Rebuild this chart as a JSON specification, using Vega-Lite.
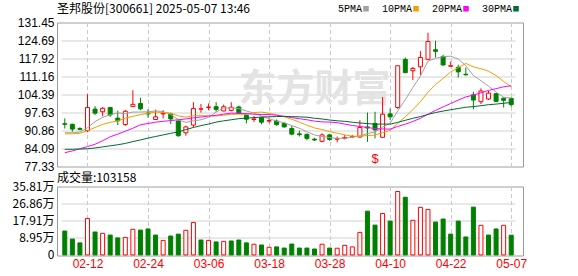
{
  "$schema": "https://vega.github.io/schema/vega-lite/v6.json",
  "background": "white",
  "padding": {"left": 0, "top": 1.5, "right": 0, "bottom": 0},
  "spacing": -3,
  "config": {
    "view": {"stroke": "#9a9a9a", "strokeWidth": 1},
    "axis": {"domain": false, "ticks": false, "labelFont": "Liberation Sans", "labelFontSize": 12, "labelColor": "#000000", "gridColor": "#d2d2d2", "title": null, "minExtent": 56, "maxExtent": 56, "labelPadding": 3, "labelOverlap": false},
    "axisX": {"minExtent": 0, "maxExtent": 30},
    "title": {"font": "Noto Sans CJK SC", "fontSize": 12, "fontWeight": "normal", "anchor": "start", "frame": "group", "color": "#000000"}
  },
  "datasets": {
    "k": [
      {"d": "02-07", "o": 93.4, "h": 95.4, "l": 91.6, "c": 93.2, "v": 125000, "up": "d", "5PMA": 90.0, "10PMA": 89.6, "20PMA": 82.5, "30PMA": 83.8},
      {"d": "02-10", "o": 93.2, "h": 93.4, "l": 90.4, "c": 91.4, "v": 83000, "up": "d", "5PMA": 90.0, "10PMA": 89.6, "20PMA": 83.2, "30PMA": 83.8},
      {"d": "02-11", "o": 91.6, "h": 92.1, "l": 90.9, "c": 91.3, "v": 63000, "up": "d", "5PMA": 90.3, "10PMA": 89.8, "20PMA": 84.0, "30PMA": 83.9},
      {"d": "02-12", "o": 90.8, "h": 104.5, "l": 90.2, "c": 99.5, "v": 191000, "up": "u", "5PMA": 91.9, "10PMA": 90.8, "20PMA": 84.8, "30PMA": 84.0},
      {"d": "02-13", "o": 98.9, "h": 100.0, "l": 96.7, "c": 97.4, "v": 120000, "up": "d", "5PMA": 94.2, "10PMA": 92.0, "20PMA": 85.7, "30PMA": 84.3},
      {"d": "02-14", "o": 97.9, "h": 99.7, "l": 96.2, "c": 99.2, "v": 113000, "up": "u", "5PMA": 95.8, "10PMA": 93.2, "20PMA": 87.0, "30PMA": 84.7},
      {"d": "02-17", "o": 99.5, "h": 99.7, "l": 96.0, "c": 96.7, "v": 104000, "up": "d", "5PMA": 96.8, "10PMA": 93.9, "20PMA": 88.5, "30PMA": 85.1},
      {"d": "02-18", "o": 95.5, "h": 98.3, "l": 92.9, "c": 94.5, "v": 89000, "up": "d", "5PMA": 97.5, "10PMA": 94.5, "20PMA": 89.5, "30PMA": 85.5},
      {"d": "02-19", "o": 93.1, "h": 98.6, "l": 92.6, "c": 98.1, "v": 92000, "up": "u", "5PMA": 97.2, "10PMA": 95.5, "20PMA": 90.6, "30PMA": 86.0},
      {"d": "02-20", "o": 99.9, "h": 106.0, "l": 99.8, "c": 100.7, "v": 134000, "up": "u", "5PMA": 97.8, "10PMA": 96.2, "20PMA": 91.7, "30PMA": 86.7},
      {"d": "02-21", "o": 101.0, "h": 103.2, "l": 98.5, "c": 99.0, "v": 130000, "up": "d", "5PMA": 97.8, "10PMA": 96.8, "20PMA": 93.0, "30PMA": 87.3},
      {"d": "02-24", "o": 97.4, "h": 98.8, "l": 95.7, "c": 97.1, "v": 136000, "up": "d", "5PMA": 97.9, "10PMA": 97.35, "20PMA": 93.5, "30PMA": 88.0},
      {"d": "02-25", "o": 95.0, "h": 98.7, "l": 94.9, "c": 96.0, "v": 104000, "up": "d", "5PMA": 98.2, "10PMA": 97.8, "20PMA": 94.0, "30PMA": 88.6},
      {"d": "02-26", "o": 97.1, "h": 98.5, "l": 95.4, "c": 97.3, "v": 76000, "up": "u", "5PMA": 98.0, "10PMA": 97.6, "20PMA": 94.3, "30PMA": 89.2},
      {"d": "02-27", "o": 97.0, "h": 97.5, "l": 93.3, "c": 95.2, "v": 99000, "up": "d", "5PMA": 96.9, "10PMA": 97.4, "20PMA": 94.6, "30PMA": 89.8},
      {"d": "02-28", "o": 94.4, "h": 94.7, "l": 88.5, "c": 88.9, "v": 109000, "up": "d", "5PMA": 94.9, "10PMA": 96.35, "20PMA": 94.9, "30PMA": 90.3},
      {"d": "03-03", "o": 90.0, "h": 92.7, "l": 88.9, "c": 92.2, "v": 129000, "up": "u", "5PMA": 93.9, "10PMA": 95.9, "20PMA": 95.2, "30PMA": 91.2},
      {"d": "03-04", "o": 92.9, "h": 101.5, "l": 92.0, "c": 99.1, "v": 170000, "up": "u", "5PMA": 94.5, "10PMA": 96.4, "20PMA": 95.6, "30PMA": 92.0},
      {"d": "03-05", "o": 98.9, "h": 100.8, "l": 97.6, "c": 99.0, "v": 78000, "up": "d", "5PMA": 94.9, "10PMA": 96.45, "20PMA": 95.9, "30PMA": 92.7},
      {"d": "03-06", "o": 99.5, "h": 101.0, "l": 98.5, "c": 99.7, "v": 76000, "up": "u", "5PMA": 95.8, "10PMA": 96.35, "20PMA": 96.28, "30PMA": 93.3},
      {"d": "03-07", "o": 99.8, "h": 101.5, "l": 97.9, "c": 98.8, "v": 68000, "up": "d", "5PMA": 97.8, "10PMA": 96.3, "20PMA": 96.56, "30PMA": 94.0},
      {"d": "03-10", "o": 98.2, "h": 100.6, "l": 98.1, "c": 99.8, "v": 71000, "up": "u", "5PMA": 99.3, "10PMA": 96.6, "20PMA": 96.98, "30PMA": 94.5},
      {"d": "03-11", "o": 98.4, "h": 101.5, "l": 98.1, "c": 99.6, "v": 73000, "up": "d", "5PMA": 99.4, "10PMA": 96.96, "20PMA": 97.39, "30PMA": 94.9},
      {"d": "03-12", "o": 99.7, "h": 100.2, "l": 97.2, "c": 97.5, "v": 78000, "up": "d", "5PMA": 99.1, "10PMA": 96.98, "20PMA": 97.29, "30PMA": 95.3},
      {"d": "03-13", "o": 96.6, "h": 97.2, "l": 93.5, "c": 95.1, "v": 63000, "up": "d", "5PMA": 98.2, "10PMA": 96.97, "20PMA": 97.18, "30PMA": 95.5},
      {"d": "03-14", "o": 95.0, "h": 96.3, "l": 94.1, "c": 95.2, "v": 56000, "up": "u", "5PMA": 97.4, "10PMA": 97.6, "20PMA": 96.98, "30PMA": 95.7},
      {"d": "03-17", "o": 95.7, "h": 96.0, "l": 93.2, "c": 94.0, "v": 52000, "up": "d", "5PMA": 96.3, "10PMA": 97.78, "20PMA": 96.84, "30PMA": 95.9},
      {"d": "03-18", "o": 94.4, "h": 95.6, "l": 93.7, "c": 94.6, "v": 40000, "up": "u", "5PMA": 95.3, "10PMA": 97.33, "20PMA": 96.85, "30PMA": 96.0},
      {"d": "03-19", "o": 94.4, "h": 95.0, "l": 92.6, "c": 93.1, "v": 42000, "up": "d", "5PMA": 94.4, "10PMA": 96.74, "20PMA": 96.6, "30PMA": 96.1},
      {"d": "03-20", "o": 93.5, "h": 93.9, "l": 92.0, "c": 92.2, "v": 36000, "up": "d", "5PMA": 93.8, "10PMA": 95.99, "20PMA": 96.17, "30PMA": 96.18},
      {"d": "03-21", "o": 91.6, "h": 92.6, "l": 89.1, "c": 89.5, "v": 57000, "up": "d", "5PMA": 92.7, "10PMA": 95.06, "20PMA": 95.7, "30PMA": 96.06},
      {"d": "03-24", "o": 89.6, "h": 90.8, "l": 88.6, "c": 89.3, "v": 36000, "up": "d", "5PMA": 91.7, "10PMA": 94.01, "20PMA": 95.3, "30PMA": 95.99},
      {"d": "03-25", "o": 89.4, "h": 89.8, "l": 87.2, "c": 87.9, "v": 36000, "up": "d", "5PMA": 90.4, "10PMA": 92.84, "20PMA": 94.9, "30PMA": 95.87},
      {"d": "03-26", "o": 87.6, "h": 88.1, "l": 86.9, "c": 87.3, "v": 31000, "up": "d", "5PMA": 89.2, "10PMA": 91.82, "20PMA": 94.4, "30PMA": 95.47},
      {"d": "03-27", "o": 86.8, "h": 89.8, "l": 86.4, "c": 89.2, "v": 56000, "up": "u", "5PMA": 88.6, "10PMA": 91.23, "20PMA": 94.1, "30PMA": 95.19},
      {"d": "03-28", "o": 89.2, "h": 89.6, "l": 87.0, "c": 87.5, "v": 36000, "up": "d", "5PMA": 88.2, "10PMA": 90.46, "20PMA": 94.03, "30PMA": 94.8},
      {"d": "03-31", "o": 87.6, "h": 88.6, "l": 86.4, "c": 87.8, "v": 35000, "up": "u", "5PMA": 87.9, "10PMA": 89.84, "20PMA": 93.81, "30PMA": 94.51},
      {"d": "04-01", "o": 88.0, "h": 89.2, "l": 87.5, "c": 88.2, "v": 50000, "up": "u", "5PMA": 88.0, "10PMA": 89.2, "20PMA": 93.27, "30PMA": 94.3},
      {"d": "04-02", "o": 88.5, "h": 89.2, "l": 88.0, "c": 88.6, "v": 42000, "up": "u", "5PMA": 88.3, "10PMA": 88.75, "20PMA": 92.75, "30PMA": 93.98},
      {"d": "04-03", "o": 88.4, "h": 94.7, "l": 88.2, "c": 92.0, "v": 118000, "up": "u", "5PMA": 88.8, "10PMA": 88.73, "20PMA": 92.36, "30PMA": 93.69},
      {"d": "04-07", "o": 92.2, "h": 97.6, "l": 86.6, "c": 91.8, "v": 229000, "up": "d", "5PMA": 89.7, "10PMA": 88.96, "20PMA": 92.01, "30PMA": 93.45},
      {"d": "04-08", "o": 93.5, "h": 97.9, "l": 87.9, "c": 91.1, "v": 156000, "up": "d", "5PMA": 90.3, "10PMA": 89.14, "20PMA": 91.58, "30PMA": 93.25},
      {"d": "04-09", "o": 88.3, "h": 103.4, "l": 88.2, "c": 97.0, "v": 217000, "up": "u", "5PMA": 92.1, "10PMA": 90.05, "20PMA": 91.45, "30PMA": 93.28},
      {"d": "04-10", "o": 97.1, "h": 99.1, "l": 94.8, "c": 96.0, "v": 177000, "up": "d", "5PMA": 93.6, "10PMA": 90.92, "20PMA": 91.37, "30PMA": 93.24},
      {"d": "04-11", "o": 99.5, "h": 115.2, "l": 99.0, "c": 115.2, "v": 332000, "up": "u", "5PMA": 98.2, "10PMA": 93.52, "20PMA": 92.38, "30PMA": 93.91},
      {"d": "04-14", "o": 117.6, "h": 118.3, "l": 112.4, "c": 112.6, "v": 302000, "up": "d", "5PMA": 102.4, "10PMA": 96.03, "20PMA": 93.25, "30PMA": 94.7},
      {"d": "04-15", "o": 113.3, "h": 114.8, "l": 109.8, "c": 114.2, "v": 181000, "up": "u", "5PMA": 107.0, "10PMA": 98.67, "20PMA": 94.26, "30PMA": 95.43},
      {"d": "04-16", "o": 114.8, "h": 120.7, "l": 111.7, "c": 118.3, "v": 249000, "up": "u", "5PMA": 111.3, "10PMA": 101.68, "20PMA": 95.44, "30PMA": 96.07},
      {"d": "04-17", "o": 117.6, "h": 127.6, "l": 117.3, "c": 124.3, "v": 238000, "up": "u", "5PMA": 116.9, "10PMA": 105.25, "20PMA": 97.0, "30PMA": 96.91},
      {"d": "04-18", "o": 121.2, "h": 124.6, "l": 118.3, "c": 120.6, "v": 172000, "up": "d", "5PMA": 118.0, "10PMA": 108.11, "20PMA": 98.42, "30PMA": 97.61},
      {"d": "04-21", "o": 118.7, "h": 119.3, "l": 115.2, "c": 115.5, "v": 188000, "up": "d", "5PMA": 118.6, "10PMA": 110.48, "20PMA": 99.72, "30PMA": 98.17},
      {"d": "04-22", "o": 115.0, "h": 116.8, "l": 114.9, "c": 115.2, "v": 109000, "up": "d", "5PMA": 118.8, "10PMA": 112.89, "20PMA": 101.02, "30PMA": 98.68},
      {"d": "04-23", "o": 114.6, "h": 115.6, "l": 110.8, "c": 112.9, "v": 177000, "up": "d", "5PMA": 117.7, "10PMA": 114.48, "20PMA": 102.27, "30PMA": 99.12},
      {"d": "04-24", "o": 112.0, "h": 114.5, "l": 111.5, "c": 111.8, "v": 94000, "up": "d", "5PMA": 115.2, "10PMA": 116.06, "20PMA": 103.49, "30PMA": 99.6},
      {"d": "04-25", "o": 104.3, "h": 105.4, "l": 98.8, "c": 102.3, "v": 250000, "up": "d", "5PMA": 111.5, "10PMA": 114.77, "20PMA": 104.15, "30PMA": 99.84},
      {"d": "04-28", "o": 101.7, "h": 106.7, "l": 100.8, "c": 105.7, "v": 155000, "up": "u", "5PMA": 109.6, "10PMA": 114.08, "20PMA": 105.06, "30PMA": 100.19},
      {"d": "04-29", "o": 102.7, "h": 105.7, "l": 102.3, "c": 104.9, "v": 104000, "up": "d", "5PMA": 107.5, "10PMA": 113.15, "20PMA": 105.91, "30PMA": 100.55},
      {"d": "04-30", "o": 104.7, "h": 104.9, "l": 101.5, "c": 101.8, "v": 136000, "up": "d", "5PMA": 105.3, "10PMA": 111.5, "20PMA": 106.59, "30PMA": 100.79},
      {"d": "05-06", "o": 103.0, "h": 103.3, "l": 99.5, "c": 102.2, "v": 155000, "up": "u", "5PMA": 103.4, "10PMA": 109.29, "20PMA": 107.27, "30PMA": 101.1},
      {"d": "05-07", "o": 102.9, "h": 103.3, "l": 99.8, "c": 100.6, "v": 103158, "up": "d", "5PMA": 103.0, "10PMA": 107.29, "20PMA": 107.7, "30PMA": 101.38}
    ]
  },
  "vconcat": [
    {
      "width": 466,
      "height": 144,
      "title": {"text": "圣邦股份[300661] 2025-05-07 13:46", "offset": 1},
      "data": {"name": "k"},
      "encoding": {
        "x": {"field": "d", "type": "ordinal", "sort": null,
              "scale": {"type": "point", "range": [4, 458]},
              "axis": {"values": ["02-12", "02-24", "03-06", "03-18", "03-28", "04-10", "04-22", "05-07"], "labels": false, "grid": true, "gridDash": [4, 3], "gridColor": "#c8c8c8"}}
      },
      "layer": [
        {
          "mark": {"type": "text", "font": "Noto Sans CJK SC", "fontSize": 38, "fontWeight": "bold", "color": "#e3e3e3"},
          "encoding": {
            "y": {"datum": 106.2},
            "text": {"condition": {"test": "datum.d == '03-26'", "value": "东方财富"}, "value": ""}
          }
        },
        {
          "mark": {"type": "rule", "strokeWidth": 1},
          "encoding": {
            "y": {"field": "l", "type": "quantitative",
                  "scale": {"domain": [77.33, 131.45], "zero": false, "nice": false},
                  "axis": {"values": [77.33, 84.09, 90.86, 97.63, 104.39, 111.16, 117.92, 124.69, 131.45], "tickCount": 20, "format": ".2f", "grid": true, "labelOverlap": false}},
            "y2": {"field": "h"},
            "color": {"condition": {"test": "datum.c >= datum.o", "value": "#ff0000"}, "value": "#008000"}
          }
        },
        {
          "mark": {"type": "bar", "size": 4, "strokeWidth": 1},
          "encoding": {
            "y": {"field": "o", "type": "quantitative"},
            "y2": {"field": "c"},
            "fill": {"condition": {"test": "datum.c >= datum.o", "value": "#ffffff"}, "value": "#008000"},
            "stroke": {"condition": {"test": "datum.c >= datum.o", "value": "#ff0000"}, "value": "#008000"}
          }
        },
        {
          "transform": [{"fold": ["5PMA", "10PMA", "20PMA", "30PMA"], "as": ["ma", "val"]}],
          "mark": {"type": "line", "strokeWidth": 1},
          "encoding": {
            "y": {"field": "val", "type": "quantitative"},
            "color": {"field": "ma", "type": "nominal",
                      "scale": {"domain": ["5PMA", "10PMA", "20PMA", "30PMA"], "range": ["#a0a0a0", "#f0a000", "#ff00ff", "#006a30"]},
                      "legend": {"orient": "none", "direction": "horizontal", "legendX": 304, "legendY": -19, "title": null, "symbolType": "square", "symbolSize": 9, "symbolStrokeWidth": 2.5, "labelAlign": "right", "labelOffset": -9, "labelFont": "Liberation Mono", "labelFontSize": 10, "labelColor": "#000000", "columnPadding": 8, "padding": 0}}
          }
        },
        {
          "mark": {"type": "text", "font": "Liberation Sans", "fontSize": 13, "color": "#ff0000"},
          "encoding": {
            "y": {"datum": 80.2},
            "text": {"condition": {"test": "datum.d == '04-08'", "value": "$"}, "value": ""}
          }
        }
      ]
    },
    {
      "width": 466,
      "height": 69,
      "title": {"text": "成交量:103158", "offset": -4},
      "data": {"name": "k"},
      "mark": {"type": "bar", "size": 4, "strokeWidth": 1},
      "encoding": {
        "x": {"field": "d", "type": "ordinal", "sort": null,
              "scale": {"type": "point", "range": [4, 458]},
              "axis": {"values": ["02-12", "02-24", "03-06", "03-18", "03-28", "04-10", "04-22", "05-07"], "grid": true, "gridDash": [4, 3], "gridColor": "#c8c8c8", "labelColor": "#ff0000", "labelAngle": 0, "labelPadding": 3}},
        "y": {"field": "v", "type": "quantitative",
              "scale": {"domain": [-3000, 358100], "nice": false, "zero": false},
              "axis": {"values": [0, 89530, 179060, 268580, 358100], "tickCount": 20, "grid": true, "labelOverlap": false, "labelBound": false, "labelExpr": "datum.value < 100 ? '0' : format(datum.value / 10000, '.2f') + '万'", "labelFont": "Noto Sans CJK SC"}},
        "fill": {"condition": {"test": "datum.up == 'u'", "value": "#ffffff"}, "value": "#008000"},
        "stroke": {"condition": {"test": "datum.up == 'u'", "value": "#ff0000"}, "value": "#008000"}
      }
    }
  ]
}
